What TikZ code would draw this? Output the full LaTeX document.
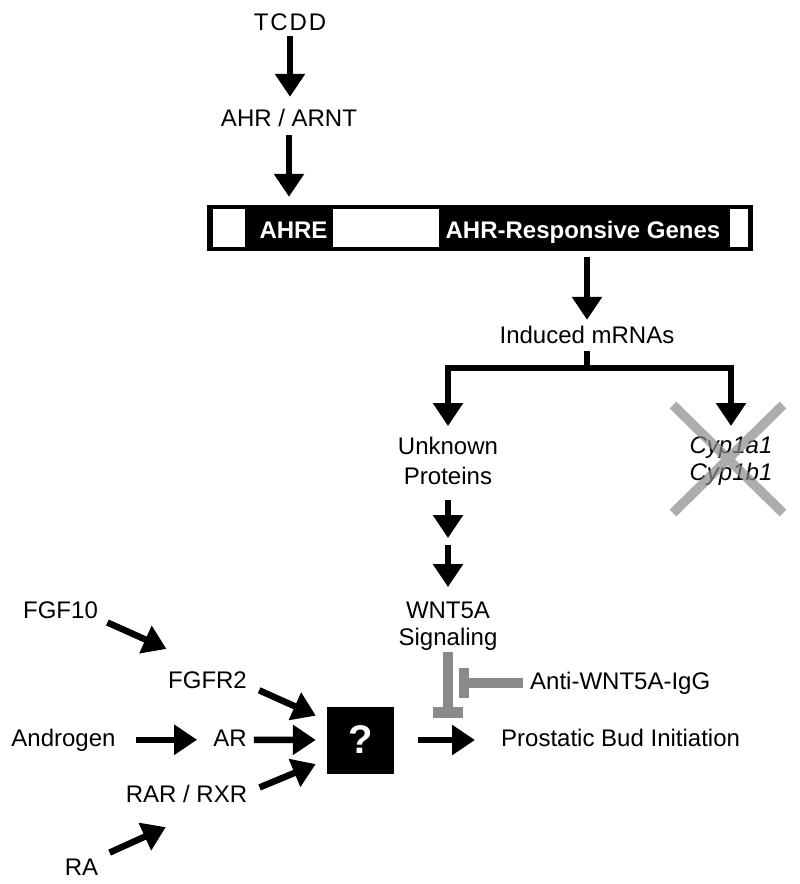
\documentclass[tikz,border=0pt]{standalone}
\usepackage{fontspec}
\setmainfont{Liberation Sans}
\usepackage{tikz}
\usetikzlibrary{arrows.meta}
\definecolor{stip}{HTML}{8A8A8A}

\begin{document}
\begin{tikzpicture}[x=1pt,y=-1pt,
		lbl/.style={inner sep=3pt,text height=17.5pt,text depth=5pt,font=\fontsize{24}{29.5}\selectfont},
		gbl/.style={lbl,text=white,font=\fontsize{24}{29.5}\selectfont\bfseries},
		two/.style={inner sep=3pt,align=center,anchor=north,font=\fontsize{24}{#1}\selectfont},
		arr/.style={line width=6.5pt,arrows={-Triangle[length=23pt,width=29pt]}},
		inh/.style={line width=9.5pt,draw=stip}]
		\useasboundingbox (0,0) rectangle (800,884);
		%定义节点
		\node (TC) [lbl] at (290,23.75) {\addfontfeatures{LetterSpace=8}TCDD};
		\node (AH) [lbl] at (289,119.75) {AHR / ARNT};
		\node (GE) [fill=black,minimum width=546pt,minimum height=46pt,inner sep=0pt] at (480,228) {};
		\fill[white] (213,209) rectangle (245,247);
		\fill[white] (333,209) rectangle (439,247);
		\fill[white] (730,209) rectangle (748,247);
		\node (RE) [gbl] at (293.5,231.75) {AHRE};
		\node (RG) [gbl] at (583,231.75) {AHR-Responsive Genes};
		\node (MR) [lbl] at (587,336.75) {Induced mRNAs};
		\coordinate (S) at (587,368);
		\node (UP) [two=30] at (448,434) {Unknown\\Proteins};
		\node (CY) [two=27,font=\fontsize{24}{27}\selectfont\itshape] at (731,434) {Cyp1a1\\Cyp1b1};
		\coordinate (M1) at (448,541.5);
		\node (WN) [two=27] at (448,599) {WNT5A\\Signaling};
		\node (AW) [lbl,anchor=west] at (527,682.75) {Anti-WNT5A-IgG};
		\coordinate (I1) at (448,712);
		\coordinate (I2) at (464,682.75);
		\node (Q) [fill=black,text=white,minimum size=67pt,inner sep=0pt,font=\fontsize{40}{40}\selectfont\bfseries] at (360.5,740) {?};
		\node (PB) [lbl,anchor=west] at (498,739.75) {Prostatic Bud Initiation};
		\node (F10) [lbl] at (60.5,611.75) {FGF10};
		\node (FR) [lbl] at (207.5,681.75) {FGFR2};
		\node (AN) [lbl] at (63.5,739.75) {Androgen};
		\node (AR) [lbl] at (230,739.75) {AR};
		\node (RR) [lbl] at (186.5,795.75) {RAR / RXR};
		\node (RA) [lbl] at (81.5,868.75) {RA};
		
		%连接节点
		\draw[arr,shorten <=-2pt,shorten >=8.5pt] (TC) -- (TC |- AH.north);
		\draw[arr,shorten <=1pt,shorten >=8pt] (AH) -- (AH |- GE.north);
		\draw[arr,shorten <=6pt,shorten >=2.5pt] (GE.south -| MR) -- (MR);
		\draw[line width=6.5pt] (MR) -- (S);
		\draw[arr,shorten >=8pt] (S) -| (UP);
		\draw[arr,shorten >=8pt] (S) -| (CY);
		\draw[arr,shorten <=12pt,shorten >=3.5pt] (UP) -- (M1);
		\draw[arr,shorten <=3.5pt,shorten >=12pt] (M1) -- (WN);
		\draw[inh] ([yshift=2pt]WN.south) -- (I1);
		\draw[inh,line width=11pt] ([xshift=-15pt]I1) -- ([xshift=15pt]I1);
		\draw[inh,line width=10pt] ([xshift=-4pt]AW.west) -- (I2);
		\draw[inh,line width=10pt] ([yshift=15pt]I2) -- ([yshift=-15pt]I2);
		\draw[arr,shorten <=24pt,shorten >=23pt] (Q) -- (Q -| PB.west);
		\draw[arr,shorten <=7pt,shorten >=45pt] (F10.-11) -- (FR.north);
		\draw[arr,shorten <=10pt,shorten >=12pt] (FR.-6) -- (Q.150);
		\draw[arr,shorten <=17pt,shorten >=13pt] (AN) -- (AR);
		\draw[arr,shorten <=4pt,shorten >=11pt] (AR) -- (Q);
		\draw[arr,shorten <=10pt,shorten >=12pt] (RR.4) -- (Q.210);
		\draw[arr,shorten <=9pt,shorten >=41pt] (RA.32) -- (RR.-41);
		\draw[inh,opacity=0.7] (673,405) -- (783,513) (783,405) -- (673,513);
	\end{tikzpicture}
\end{document}
